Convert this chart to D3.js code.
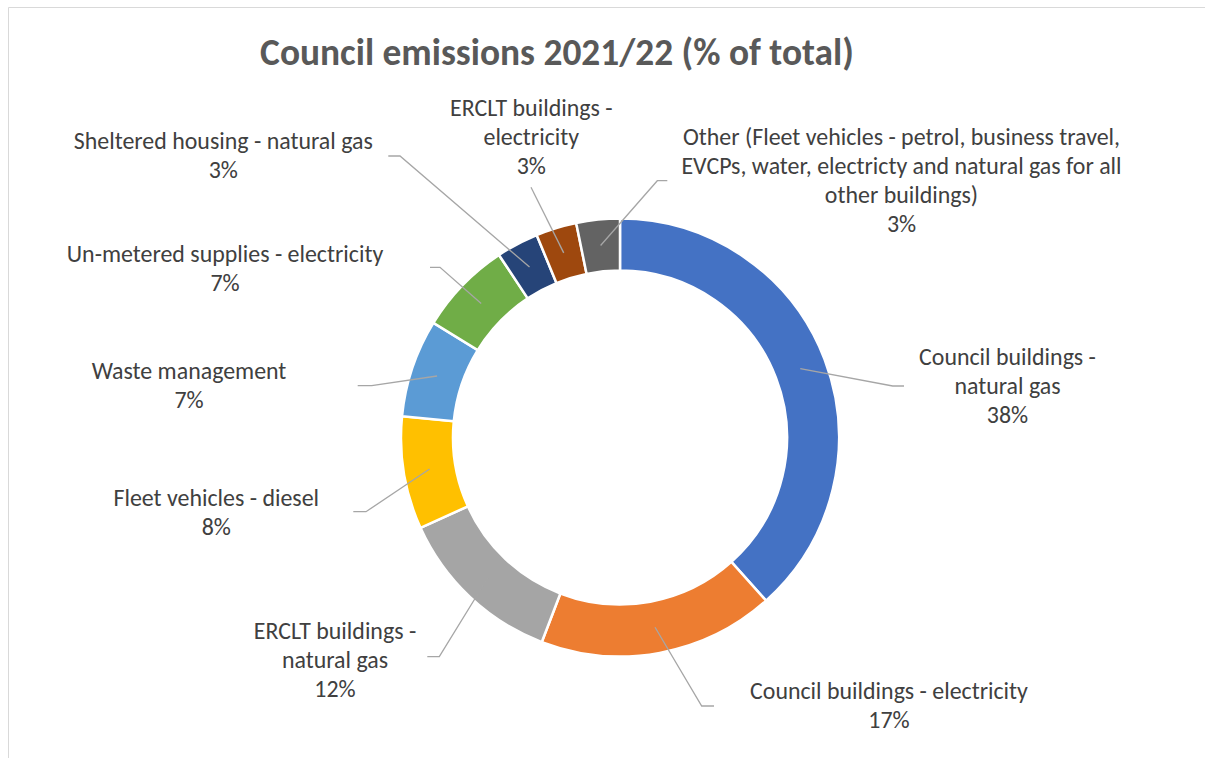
<!DOCTYPE html>
<html>
<head>
<meta charset="utf-8">
<script src="https://cdn.jsdelivr.net/npm/d3@7"></script>
<style>
  html, body { margin: 0; padding: 0; background: #fff; }
  svg { display: block; }
</style>
</head>
<body>
<script>
const title = 'Council emissions 2021/22 (% of total)';

const categories = [
  'Council buildings - natural gas',
  'Council buildings - electricity',
  'ERCLT buildings - natural gas',
  'Fleet vehicles - diesel',
  'Waste management',
  'Un-metered supplies - electricity',
  'Sheltered housing - natural gas',
  'ERCLT buildings - electricity',
  'Other (Fleet vehicles - petrol, business travel, EVCPs, water, electricty and natural gas for all other buildings)'
];
const shares = [38.3, 17.4, 12.4, 8.3, 7.2, 6.9, 3.1, 3.0, 3.2];
const colors = ['#4472C4', '#ED7D31', '#A5A5A5', '#FFC000', '#5B9BD5', '#70AD47', '#264478', '#9E480E', '#636363'];

// label placement: text centre x, first baseline y, wrap width, leader elbow + end
const labelLayout = [
  {x: 1007.5, y: 365,   wrap: 190, elbow: [892.7, 386],   end: [904, 386]},
  {x: 889,    y: 699,   wrap: 300, elbow: [701.7, 706],   end: [714, 706]},
  {x: 335,    y: 639.3, wrap: 180, elbow: [439.3, 656.7], end: [427.3, 656.7]},
  {x: 216.3,  y: 505.7, wrap: 260, elbow: [366, 511.7],   end: [353.3, 511.7]},
  {x: 189,    y: 379.3, wrap: 260, elbow: [371.7, 385.7], end: [357.7, 385.7]},
  {x: 225,    y: 261.7, wrap: 340, elbow: [440, 267.3],   end: [430, 267.3]},
  {x: 223.3,  y: 149.3, wrap: 340, elbow: [400, 156],     end: [388.3, 156]},
  {x: 531.3,  y: 116,   wrap: 180, elbow: [531, 187.3],   end: [531, 187.3]},
  {x: 901.5,  y: 145,   wrap: 475, elbow: [657.3, 180.7], end: [667.3, 180.7]}
];

const W = 1205, H = 758;
const cx = 620, cy = 437.5, rOuter = 219, rInner = 167;
const FONT = 'Carlito, Calibri, Lato, "Open Sans", sans-serif';
const lineH = 29;

const svg = d3.select('body').append('svg').attr('width', W).attr('height', H);

function fitSize(text, target, weight, base) {
  const t = svg.append('text').style('font-family', FONT).style('font-weight', weight)
    .style('font-size', base + 'px').text(text);
  const w = t.node().getComputedTextLength();
  t.remove();
  return base * target / w;
}
const labelSize = fitSize('Council buildings - electricity', 278, 400, 24);
const titleSize = fitSize(title, 594, 700, 32);

// chart area border (left and top edges visible)
svg.append('path').attr('d', `M8.5,${H}V7.5H${W}`).attr('fill', 'none').attr('stroke', '#D9D9D9').attr('stroke-width', 1);

svg.append('text')
  .attr('x', 557).attr('y', 64.5).attr('text-anchor', 'middle')
  .style('font-family', FONT).style('font-weight', 700).style('font-size', titleSize + 'px')
  .attr('fill', '#595959').text(title);

const data = categories.map((c, i) => ({name: c, value: shares[i], color: colors[i], layout: labelLayout[i]}));
const total = d3.sum(shares);

const pie = d3.pie().value(d => d.value).sort(null);
const arc = d3.arc().innerRadius(rInner).outerRadius(rOuter);
const midArc = d3.arc().innerRadius((rInner + rOuter) / 2).outerRadius((rInner + rOuter) / 2);
const arcs = pie(data);

const g = svg.append('g').attr('transform', `translate(${cx},${cy})`);
g.selectAll('path.slice').data(arcs).join('path')
  .attr('class', 'slice')
  .attr('d', arc)
  .attr('fill', d => d.data.color)
  .attr('stroke', '#fff').attr('stroke-width', 2.5).attr('stroke-linejoin', 'miter');

// leader lines
svg.append('g').selectAll('polyline').data(arcs).join('polyline')
  .attr('points', d => {
    const [mx, my] = midArc.centroid(d);
    const L = d.data.layout;
    return [[cx + mx, cy + my], L.elbow, L.end].map(p => p.join(',')).join(' ');
  })
  .attr('fill', 'none').attr('stroke', '#A6A6A6').attr('stroke-width', 1.3);

// wrap words by measured width
function wrapLines(text, maxW) {
  const words = text.split(' ');
  const probe = svg.append('text').style('font-family', FONT).style('font-size', labelSize + 'px');
  const lines = [];
  let cur = '';
  words.forEach(w => {
    const test = cur ? cur + ' ' + w : w;
    probe.text(test);
    if (probe.node().getComputedTextLength() > maxW && cur) { lines.push(cur); cur = w; }
    else cur = test;
  });
  if (cur) lines.push(cur);
  probe.remove();
  return lines;
}

const labels = svg.append('g')
  .style('font-family', FONT).style('font-size', labelSize + 'px')
  .attr('fill', '#404040').attr('text-anchor', 'middle');

arcs.forEach(d => {
  const L = d.data.layout;
  const lines = wrapLines(d.data.name, L.wrap);
  lines.push(Math.round(d.data.value / total * 100) + '%');
  const t = labels.append('text').attr('x', L.x).attr('y', L.y);
  lines.forEach((ln, i) => {
    t.append('tspan').attr('x', L.x).attr('y', L.y + i * lineH).text(ln);
  });
});
</script>
</body>
</html>
